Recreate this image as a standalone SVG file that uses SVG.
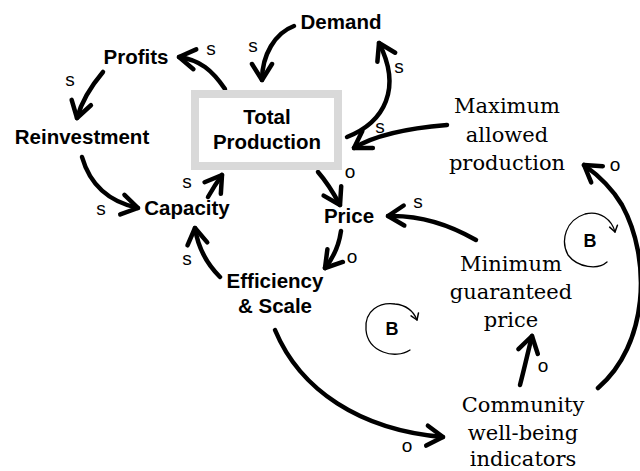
<svg xmlns="http://www.w3.org/2000/svg" width="640" height="471" viewBox="0 0 640 471">
<defs>
<style>
.n{font-family:"Liberation Sans",Arial,sans-serif;font-weight:bold;font-size:20.5px;fill:#000;text-anchor:middle}
.sf{font-family:"DejaVu Serif",serif;font-size:21px;fill:#000;text-anchor:middle}
.lb{font-family:"Liberation Sans",Arial,sans-serif;font-size:19px;fill:#000;text-anchor:middle}
.b{font-family:"Liberation Sans",Arial,sans-serif;font-weight:bold;font-size:18px;fill:#000;text-anchor:middle}
.c{fill:none;stroke:#000;stroke-width:4.5;stroke-linecap:round;stroke-linejoin:round;marker-end:url(#ah)}
.lp{fill:none;stroke:#000;stroke-width:1.3;stroke-linecap:round;marker-end:url(#sm)}
</style>
<marker id="ah" markerUnits="userSpaceOnUse" markerWidth="40" markerHeight="40" refX="0" refY="0" orient="auto" style="overflow:visible">
<path d="M-16,-10 L0,0 L-16,10" fill="none" stroke="#000" stroke-width="4.5" stroke-linecap="round" stroke-linejoin="round"/>
</marker>
<marker id="sm" markerUnits="userSpaceOnUse" markerWidth="20" markerHeight="20" refX="0" refY="0" orient="auto" style="overflow:visible">
<path d="M-6,-4 L0,0 L-6,4" fill="none" stroke="#000" stroke-width="1.5" stroke-linecap="round" stroke-linejoin="round"/>
</marker>
</defs>
<rect width="640" height="471" fill="#fff"/>

<g id="connectors">
<path class="c" d="M294,26 C275,33 262,55 262,80"/>
<path class="c" d="M225,89 C212,70 200,60 179,57"/>
<path class="c" d="M103,72 C92,85 82,100 77,118"/>
<path class="c" d="M82,157 C90,185 110,202 138,208"/>
<path class="c" d="M208,197 C212,190 217,182 222,175"/>
<path class="c" d="M220,277 C208,265 198,248 195,228"/>
<path class="c" d="M318,172 C325,180 333,192 340,205"/>
<path class="c" d="M341,231 C339,245 334,257 325,268"/>
<path class="c" d="M347,137 C385,122 402,88 379,43"/>
<path class="c" d="M447,125 C410,128 375,135 354,148"/>
<path class="c" d="M476,240 C450,225 420,215 388,216"/>
<path class="c" d="M520,385 C524,370 528,352 532,336"/>
<path class="c" d="M598,388 C648,345 652,260 622,205 C612,188 598,175 584,165"/>
<path class="c" d="M275,330 C300,390 360,430 443,437"/>
<text class="lb" x="253" y="52">s</text>
<text class="lb" x="211" y="55">s</text>
<text class="lb" x="70" y="86">s</text>
<text class="lb" x="101" y="215">s</text>
<text class="lb" x="187" y="188">s</text>
<text class="lb" x="187" y="265">s</text>
<text class="lb" x="350" y="178">o</text>
<text class="lb" x="352" y="263">o</text>
<text class="lb" x="399" y="73">s</text>
<text class="lb" x="380" y="133">s</text>
<text class="lb" x="418" y="208">s</text>
<text class="lb" x="543" y="372">o</text>
<text class="lb" x="615" y="171">o</text>
<text class="lb" x="407" y="452">o</text>
</g>

<g id="loop-b1">
<path class="lp" d="M410,350 C395,360 368,352 366,330 C364,310 380,302 395,304 C405,305 413,310 417,320"/>
<text class="b" x="392" y="335">B</text>
</g>
<g id="loop-b2">
<path class="lp" d="M607,262 C598,270 578,268 568,255 C560,240 566,220 585,214 C600,210 612,220 615,232"/>
<text class="b" x="590" y="247">B</text>
</g>

<g id="total-production">
<rect x="195" y="94" width="143" height="72" fill="#fff" stroke="#d9d9d9" stroke-width="8"/>
<text class="n" x="267" y="124">Total</text>
<text class="n" x="267" y="149">Production</text>
</g>
<g id="demand"><text class="n" x="341" y="29">Demand</text></g>
<g id="profits"><text class="n" x="136" y="64">Profits</text></g>
<g id="reinvestment"><text class="n" x="82" y="144">Reinvestment</text></g>
<g id="capacity"><text class="n" x="187" y="215">Capacity</text></g>
<g id="price"><text class="n" x="349" y="223">Price</text></g>
<g id="efficiency"><text class="n" x="275" y="288">Efficiency</text><text class="n" x="275" y="313">&amp; Scale</text></g>
<g id="maximum-allowed-production">
<text class="sf" x="507" y="113">Maximum</text>
<text class="sf" x="507" y="142">allowed</text>
<text class="sf" x="507" y="170">production</text>
</g>
<g id="minimum-guaranteed-price">
<text class="sf" x="511" y="271">Minimum</text>
<text class="sf" x="511" y="299">guaranteed</text>
<text class="sf" x="511" y="327">price</text>
</g>
<g id="community-well-being-indicators">
<text class="sf" x="523" y="412">Community</text>
<text class="sf" x="523" y="440">well-being</text>
<text class="sf" x="523" y="466">indicators</text>
</g>
</svg>
